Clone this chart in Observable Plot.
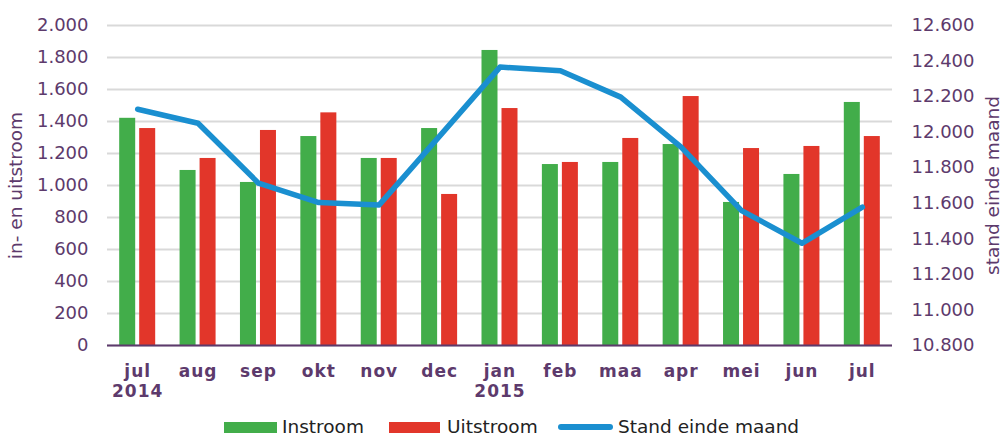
<!DOCTYPE html>
<html><head><meta charset="utf-8">
<script src="https://cdn.jsdelivr.net/npm/d3@7"></script>
<script src="https://cdn.jsdelivr.net/npm/@observablehq/plot@0.6"></script>
<style>
html,body{margin:0;padding:0;background:#fff;}
body{width:1003px;height:436px;position:relative;overflow:hidden;font-family:"DejaVu Sans",Verdana,sans-serif;}
#chart svg{display:block;}
.sw{position:absolute;top:422px;height:11px;}
.lt{position:absolute;top:416px;height:22px;line-height:22px;font-size:18.5px;color:#222;white-space:nowrap;}
</style></head>
<body>
<div id="chart"></div>
<div class="sw" style="left:224px;width:53px;background:#42ad4a"></div>
<div class="lt" style="left:282px">Instroom</div>
<div class="sw" style="left:389px;width:51px;background:#e2362a"></div>
<div class="lt" style="left:447px">Uitstroom</div>
<div class="sw" style="left:558px;width:55px;top:424px;height:6px;border-radius:3px;background:#1a8fd0"></div>
<div class="lt" style="left:618px">Stand einde maand</div>
<script>
const months = ["jul\n2014","aug","sep","okt","nov","dec","jan\n2015","feb","maa","apr","mei","jun","jul"];
const instroom = [1420,1094,1019,1306,1169,1356,1844,1131,1144,1256,894,1069,1519];
const uitstroom = [1356,1169,1344,1454,1169,944,1481,1144,1294,1556,1231,1244,1306];
const stand = [12129,12050,11713,11604,11591,11978,12366,12345,12197,11916,11559,11375,11578];
const leftTicks = [0,200,400,600,800,1000,1200,1400,1600,1800,2000];
const rightTicks = [10800,11000,11200,11400,11600,11800,12000,12200,12400,12600];

const purple = "#5d3a6c";
const loc = d3.formatLocale({thousands:".", grouping:[3], decimal:",", currency:["",""]});
const fmt = loc.format(",d");
const toLeft = v => (v - 10800) * 2000 / 1800;
const fromLeft = v => Math.round(v * 1800 / 2000 + 10800);

const data = months.map((m, i) => ({m, inn: instroom[i], uit: uitstroom[i], stand: toLeft(stand[i])}));

const chart = Plot.plot({
  width: 1003, height: 405,
  marginLeft: 107, marginRight: 111, marginTop: 25, marginBottom: 60,
  style: {fontFamily: "'DejaVu Sans', Verdana, sans-serif", fontSize: "18px", color: purple, background: "#fff"},
  x: {domain: months, paddingInner: 0.735, paddingOuter: 0.3675, round: false, axis: null, label: null},
  y: {domain: [0, 2000], axis: null, label: null},
  marks: [
    Plot.gridY(leftTicks, {stroke: "#d9d9d9", strokeOpacity: 1, strokeWidth: 2}),
    Plot.barY(data, {x: "m", y: "inn", fill: "#42ad4a", dx: -10}),
    Plot.barY(data, {x: "m", y: "uit", fill: "#e2362a", dx: 10}),
    Plot.ruleY([0], {stroke: purple, strokeWidth: 2}),
    Plot.line(data, {x: "m", y: "stand", stroke: "#1a8fd0", strokeWidth: 5.5}),
    Plot.axisY(leftTicks, {anchor: "left", tickSize: 0, tickPadding: 19, tickFormat: fmt, fill: purple, fontSize: 18, label: null}),
    Plot.axisY(rightTicks.map(toLeft), {anchor: "right", tickSize: 0, tickPadding: 19, tickFormat: v => fmt(fromLeft(v)), fill: purple, fontSize: 18, label: null}),
    Plot.axisX({tickSize: 0, tickPadding: 18, fontWeight: "bold", fontSize: 17, lineHeight: 1.15, fill: purple, label: null}),
    Plot.text(["in- en uitstroom"], {frameAnchor: "left", textAnchor: "middle", dx: -91, rotate: -90, fill: purple, fontSize: 18.5}),
    Plot.text(["stand einde maand"], {frameAnchor: "right", textAnchor: "middle", dx: 101, rotate: -90, fill: purple, fontSize: 18.5})
  ]
});
document.getElementById("chart").appendChild(chart);
d3.select(chart).selectAll("g[aria-label='x-axis tick label'] text").style("letter-spacing", "1px");
</script>
</body></html>
